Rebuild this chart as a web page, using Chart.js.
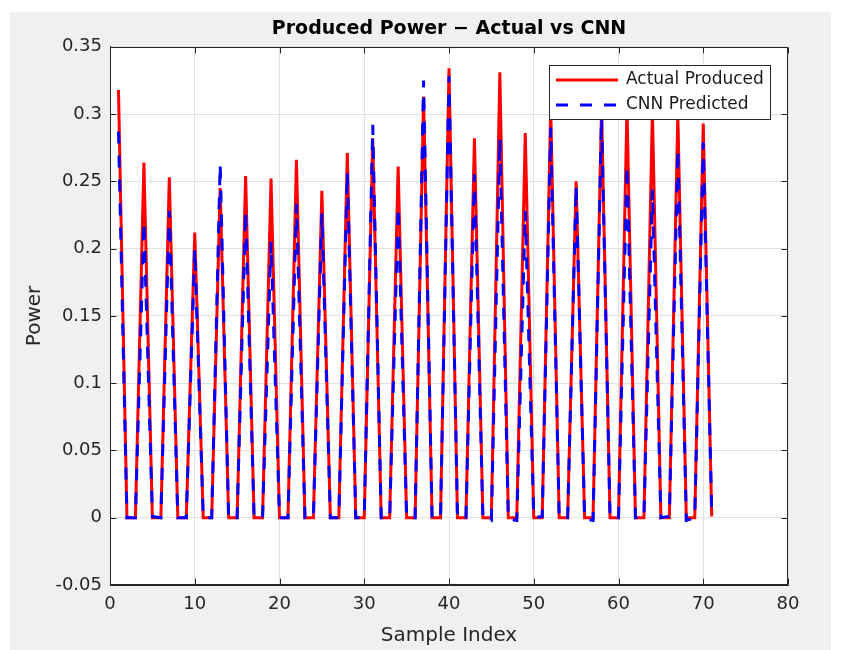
<!DOCTYPE html>
<html lang="en">
<head>
    <meta charset="UTF-8">
    <title>Produced Power - Actual vs CNN</title>
    <script src="https://cdn.jsdelivr.net/npm/chart.js"></script>
    <style>
        body {
            margin: 0;
            background: #ffffff;
        }
        canvas {
            display: block;
        }
    </style>
</head>
<body>
    <canvas id="power-chart" width="842" height="650"></canvas>

    <script>
        // Sample index (x axis)
        const sampleIndex = [
            1, 2, 3, 4, 5, 6, 7, 8, 9, 10, 11, 12, 13, 14, 15, 16, 17, 18, 19, 20,
            21, 22, 23, 24, 25, 26, 27, 28, 29, 30, 31, 32, 33, 34, 35, 36, 37, 38, 39, 40,
            41, 42, 43, 44, 45, 46, 47, 48, 49, 50, 51, 52, 53, 54, 55, 56, 57, 58, 59, 60,
            61, 62, 63, 64, 65, 66, 67, 68, 69, 70, 71
        ];

        // Actual produced power (red)
        const actualProduced = [
            0.318, 0, 0,
            0.264, 0, 0,
            0.253, 0, 0,
            0.212, 0, 0,
            0.245, 0, 0,
            0.254, 0, 0,
            0.252, 0, 0,
            0.266, 0, 0,
            0.243, 0, 0,
            0.271, 0, 0,
            0.282, 0, 0,
            0.261, 0, 0,
            0.313, 0, 0,
            0.334, 0, 0,
            0.282, 0, 0,
            0.331, 0, 0,
            0.286, 0, 0,
            0.305, 0, 0,
            0.250, 0, 0,
            0.305, 0, 0,
            0.305, 0, 0,
            0.302, 0, 0,
            0.300, 0, 0,
            0.293, 0.001
        ];

        // CNN predicted power (blue dashed)
        const cnnPredicted = [
            0.287, 0.000, 0.000,
            0.220, 0.001, 0.000,
            0.228, 0.000, 0.000,
            0.200, 0.000, 0.000,
            0.263, -0.001, 0.000,
            0.228, 0.000, 0.000,
            0.205, 0.000, 0.000,
            0.233, 0.000, 0.000,
            0.226, 0.000, 0.000,
            0.257, 0.000, 0.000,
            0.292, 0.000, 0.000,
            0.231, 0.000, 0.000,
            0.325, 0.000, 0.000,
            0.328, 0.000, 0.000,
            0.255, -0.001, -0.002,
            0.282, -0.001, -0.002,
            0.228, 0.000, 0.001,
            0.290, 0.000, 0.000,
            0.247, -0.001, -0.002,
            0.298, 0.000, 0.000,
            0.262, 0.000, 0.000,
            0.244, 0.000, 0.001,
            0.274, -0.002, 0.000,
            0.279, 0.002
        ];

        const seriesNames = ['Actual Produced', 'CNN Predicted'];
        const xTitle = 'Sample Index';
        const yTitle = 'Power';
        const chartTitle = 'Produced Power \u2212 Actual vs CNN';

        const axisColor = '#262626';
        const fontFamily = '"DejaVu Sans", sans-serif';

        function toPoints(values) {
            return values.map((v, i) => ({ x: sampleIndex[i], y: v }));
        }

        // grey figure background, white axes, box with inner ticks, legend
        const matlabLook = {
            id: 'matlabLook',
            beforeDraw(chart) {
                const ctx = chart.ctx;
                const a = chart.chartArea;
                ctx.save();
                ctx.fillStyle = '#ffffff';
                ctx.fillRect(0, 0, chart.width, chart.height);
                ctx.fillStyle = '#f0f0f0';
                ctx.fillRect(10, 12, 821, 638);
                ctx.fillStyle = '#ffffff';
                ctx.fillRect(a.left, a.top, a.right - a.left, a.bottom - a.top);
                ctx.restore();
            },
            afterDatasetsDraw(chart) {
                const ctx = chart.ctx;
                const a = chart.chartArea;
                const xs = chart.scales.x;
                const ys = chart.scales.y;
                const L = Math.round(a.left) + 0.5, R = Math.round(a.right) - 0.5;
                const T = Math.round(a.top) + 0.5, B = Math.round(a.bottom) - 0.5;

                ctx.save();
                ctx.strokeStyle = axisColor;
                ctx.lineWidth = 1;
                ctx.strokeRect(L, T, R - L, B - T);

                // tick marks pointing inward
                ctx.beginPath();
                xs.ticks.forEach(t => {
                    const px = Math.round(xs.getPixelForValue(t.value)) + 0.5;
                    ctx.moveTo(px, B); ctx.lineTo(px, B - 6);
                    ctx.moveTo(px, T); ctx.lineTo(px, T + 6);
                });
                ys.ticks.forEach(t => {
                    const py = Math.round(ys.getPixelForValue(t.value)) + 0.5;
                    ctx.moveTo(L, py); ctx.lineTo(L + 6, py);
                    ctx.moveTo(R, py); ctx.lineTo(R - 6, py);
                });
                ctx.stroke();

                // legend box (top right, inside axes)
                const lx = 549.5, ly = 65.5, lw = 221, lh = 54;
                ctx.fillStyle = '#ffffff';
                ctx.fillRect(lx, ly, lw, lh);
                ctx.strokeStyle = axisColor;
                ctx.strokeRect(lx, ly, lw, lh);

                const rowY = [80, 105];
                chart.data.datasets.forEach((ds, i) => {
                    ctx.beginPath();
                    ctx.strokeStyle = ds.borderColor;
                    ctx.lineWidth = ds.borderWidth;
                    ctx.setLineDash(ds.borderDash || []);
                    ctx.moveTo(556, rowY[i]);
                    ctx.lineTo(618, rowY[i]);
                    ctx.stroke();
                    ctx.setLineDash([]);

                    ctx.fillStyle = '#1a1a1a';
                    ctx.font = '17px ' + fontFamily;
                    ctx.textBaseline = 'middle';
                    ctx.textAlign = 'left';
                    ctx.fillText(ds.label, 626, rowY[i]);
                });
                ctx.restore();
            }
        };

        const ctx = document.getElementById('power-chart').getContext('2d');
        new Chart(ctx, {
            type: 'line',
            data: {
                datasets: [
                    {
                        label: seriesNames[0],
                        data: toPoints(actualProduced),
                        borderColor: '#ff0000',
                        borderWidth: 3,
                        pointRadius: 0,
                        tension: 0,
                        fill: false,
                        order: 1
                    },
                    {
                        label: seriesNames[1],
                        data: toPoints(cnnPredicted),
                        borderColor: '#0000ff',
                        borderWidth: 3,
                        borderDash: [12, 12],
                        pointRadius: 0,
                        tension: 0,
                        fill: false,
                        order: 0
                    }
                ]
            },
            options: {
                responsive: false,
                animation: false,
                devicePixelRatio: 1,
                layout: {
                    padding: { left: 0, right: 54, top: 0, bottom: 0 }
                },
                plugins: {
                    legend: { display: false },
                    tooltip: { enabled: false },
                    title: {
                        display: true,
                        text: chartTitle,
                        fullSize: false,
                        color: '#000000',
                        font: { family: fontFamily, size: 19, weight: 'bold', lineHeight: 1.2 },
                        padding: { top: 18, bottom: 6 }
                    }
                },
                scales: {
                    x: {
                        type: 'linear',
                        min: 0,
                        max: 80,
                        ticks: {
                            stepSize: 10,
                            color: axisColor,
                            padding: 9,
                            maxRotation: 0,
                            font: { family: fontFamily, size: 18 }
                        },
                        grid: { color: '#e1e1e1', drawTicks: false },
                        border: { color: axisColor },
                        title: {
                            display: true,
                            text: xTitle,
                            color: axisColor,
                            font: { family: fontFamily, size: 20 },
                            padding: { top: 0, bottom: 2 }
                        },
                        afterFit(axis) { axis.height = 65; }
                    },
                    y: {
                        type: 'linear',
                        min: -0.05,
                        max: 0.35,
                        ticks: {
                            stepSize: 0.05,
                            color: axisColor,
                            padding: 8,
                            font: { family: fontFamily, size: 18 },
                            callback: v => Number(v.toFixed(2)).toString()
                        },
                        grid: { color: '#e1e1e1', drawTicks: false },
                        border: { color: axisColor },
                        title: {
                            display: true,
                            text: yTitle,
                            color: axisColor,
                            font: { family: fontFamily, size: 20 },
                            padding: { top: 23, bottom: 0 }
                        },
                        afterFit(axis) { axis.width = 110; }
                    }
                }
            },
            plugins: [matlabLook]
        });
    </script>
</body>
</html>
